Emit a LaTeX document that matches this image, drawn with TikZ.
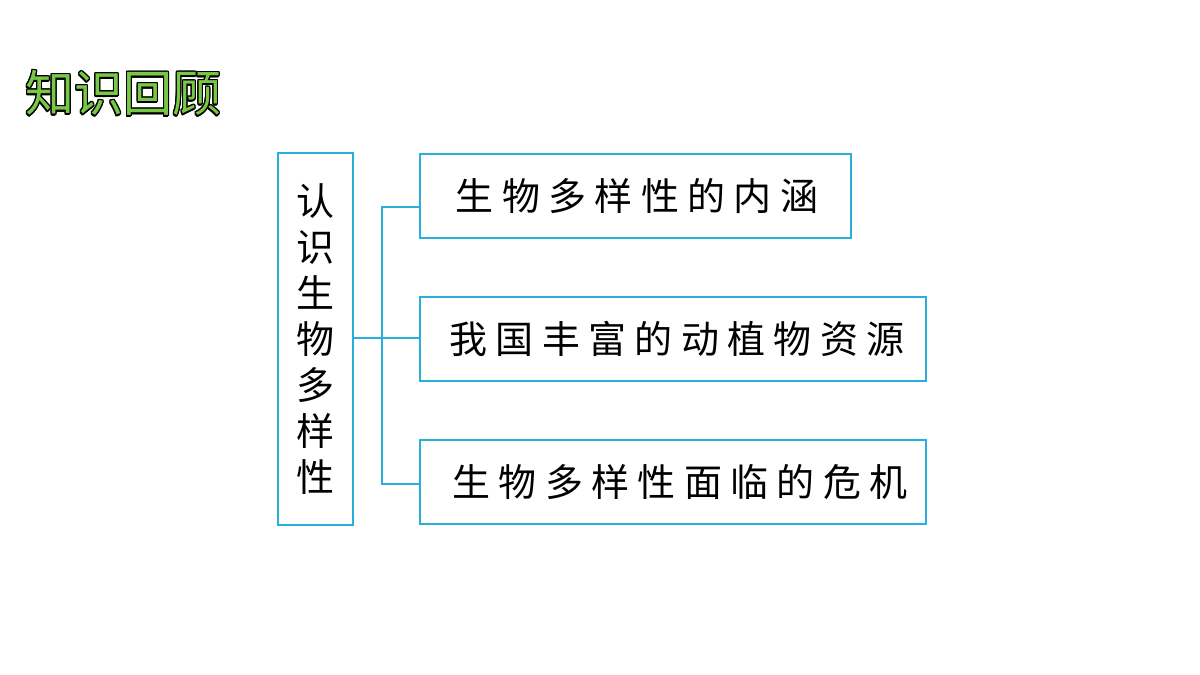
\documentclass[tikz,border=0pt]{standalone}
\usepackage{fontspec}
\usepackage{contour}
\contournumber{16}
\newfontfamily\cjk{Noto Sans CJK SC}
\definecolor{bx}{RGB}{40,175,220}
\definecolor{tg}{RGB}{120,200,70}
\contourlength{0.7pt}
\begin{document}
\begin{tikzpicture}[x=0.5pt,y=-0.5pt,
 box/.style={draw=bx,line width=1.1pt},
 ln/.style={draw=bx,line width=1pt},
 lab/.style={font=\cjk\fontsize{19}{22}\selectfont\addfontfeature{LetterSpace=22},anchor=center}]
\useasboundingbox (0,0) rectangle (1200,675);
\node[anchor=west,inner sep=0] (title) at (25,94) {\cjk\fontsize{24.5}{28}\selectfont\contour{black}{\textcolor{tg}{知识回顾}}};
\draw[box] (278,153) rectangle (353,525);
\node[font=\cjk\fontsize{19}{23}\selectfont,align=center] (L) at (315.5,339) {认\\识\\生\\物\\多\\样\\性};
\draw[box] (420,154) rectangle (851,238);
\draw[box] (420,297) rectangle (926,381);
\draw[box] (420,440) rectangle (926,524);
\node[lab] (a) at (637,196) {生物多样性的内涵};
\node[lab] (b) at (677,339) {我国丰富的动植物资源};
\node[lab] (c) at (680,482) {生物多样性面临的危机};
\coordinate (ls) at (353,338);
\coordinate (j) at (382,338);
\draw[ln] (ls) -- (j);
\draw[ln] (420,207) -- (382,207) -- (382,484) -- (420,484);
\draw[ln] (j) -- (420,338);
\end{tikzpicture}
\end{document}
